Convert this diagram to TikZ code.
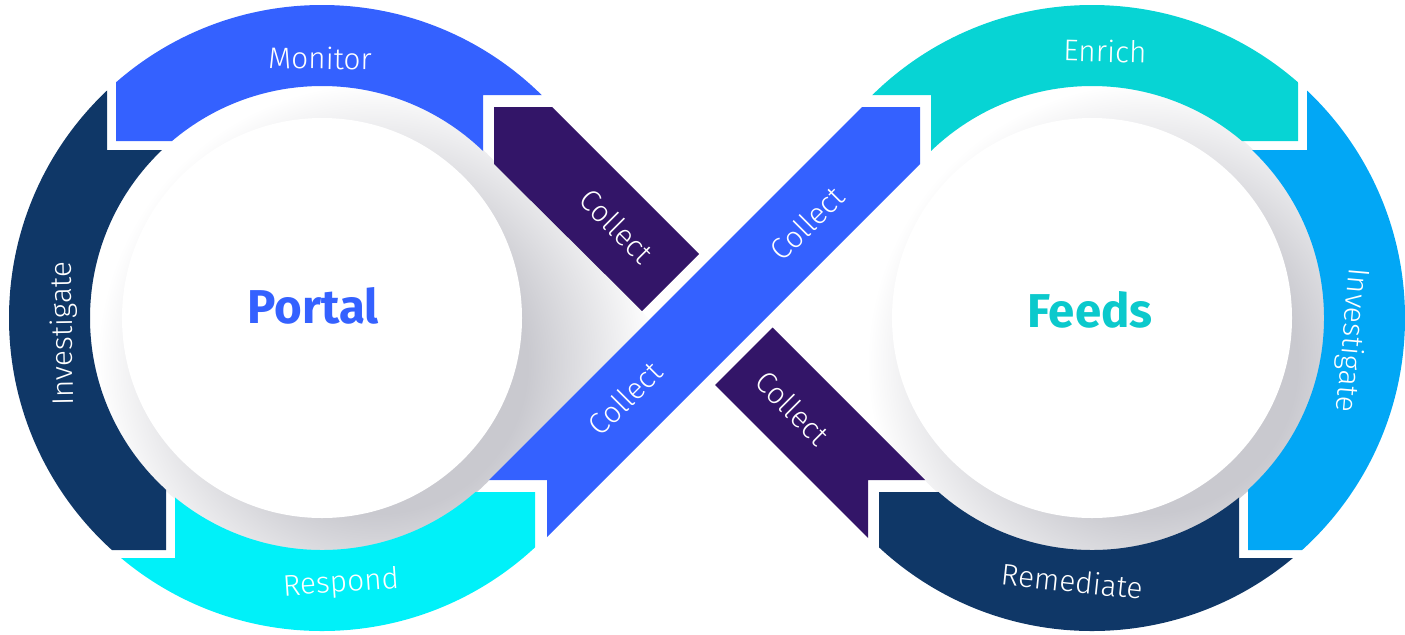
\documentclass[tikz,border=0pt]{standalone}
\usepackage{fontspec}
\setmainfont{Fira Sans}
\newfontfamily\thinfont{Fira Sans Light}
\definecolor{monitorblue}{HTML}{3461FF}
\definecolor{collectpurple}{HTML}{331568}
\definecolor{deepnavy}{HTML}{0F3767}
\definecolor{respondcyan}{HTML}{00F1F9}
\definecolor{enrichteal}{HTML}{07D4D4}
\definecolor{investblue}{HTML}{02A7F5}
\definecolor{feedsteal}{HTML}{0BC9CC}
\definecolor{shadowgrey}{HTML}{C9C9CF}
\pgfdeclareradialshading{ringshadow}{\pgfpointorigin}{color(0bp)=(shadowgrey); color(11.4bp)=(shadowgrey); color(21.2bp)=(white); color(50bp)=(white)}

\begin{document}
\begin{tikzpicture}[x=0.2mm, y=-0.2mm,
	lbl/.style={text=white, font=\thinfont\fontsize{17}{20}\selectfont, inner sep=0pt},
	hub/.style={font=\fontsize{27}{32}\selectfont\bfseries, inner sep=0pt}]
	\useasboundingbox (0,0) rectangle (1405,634);
	\coordinate (pc) at (322,318);
	\coordinate (fc) at (1092,318);
	% shadow round the two hubs
	\begin{scope}
		\clip (pc) circle (233);
		\shade[shading=ringshadow] (377,363) circle (330);
	\end{scope}
	\begin{scope}
		\clip (pc) -- (494,164) -- (649.5,319.5) -- (489,480) -- cycle;
		\shade[shading=ringshadow] (377,363) circle (330);
	\end{scope}
	\begin{scope}
		\clip (fc) circle (233);
		\shade[shading=ringshadow] (1147,363) circle (330);
	\end{scope}
	\begin{scope}
		\clip (fc) -- (920,164) -- (764.5,319.5) -- (925,480) -- cycle;
		\shade[shading=ringshadow] (1147,363) circle (330);
	\end{scope}
	\fill[white] (pc) circle (200);
	\fill[white] (fc) circle (200);
	% left loop
	\begin{scope}
		\clip (116,141) -- (116,-10) -- (600,-10) -- (600,95) -- (483,95) -- (483,318) -- (322,318) -- (322,141) -- cycle;
		\fill[monitorblue, even odd rule] (pc) circle (313) (pc) circle (232);
	\end{scope}
	\begin{scope}
		\clip (-10,-10) -- (107,-10) -- (107,150) -- (322,150) -- (322,318) -- (166,318) -- (166,550) -- (-10,550) -- cycle;
		\fill[deepnavy, even odd rule] (pc) circle (313) (pc) circle (232);
	\end{scope}
	\begin{scope}
		\clip (175,318) -- (175,558) -- (-10,558) -- (-10,700) -- (535,700) -- (535,492) -- (322,492) -- (322,318) -- cycle;
		\fill[respondcyan, even odd rule] (pc) circle (313) (pc) circle (232);
	\end{scope}
	% right loop
	\begin{scope}
		\clip (1298,141) -- (1298,-10) -- (814,-10) -- (814,95) -- (931,95) -- (931,318) -- (1092,318) -- (1092,141) -- cycle;
		\fill[enrichteal, even odd rule] (fc) circle (313) (fc) circle (232);
	\end{scope}
	\begin{scope}
		\clip (1424,-10) -- (1307,-10) -- (1307,150) -- (1092,150) -- (1092,318) -- (1248,318) -- (1248,550) -- (1424,550) -- cycle;
		\fill[investblue, even odd rule] (fc) circle (313) (fc) circle (232);
	\end{scope}
	\begin{scope}
		\clip (1239,318) -- (1239,558) -- (1424,558) -- (1424,700) -- (879,700) -- (879,492) -- (1092,492) -- (1092,318) -- cycle;
		\fill[deepnavy, even odd rule] (fc) circle (313) (fc) circle (232);
	\end{scope}
	% collect bars
	\fill[collectpurple] (494,107) -- (552,107) -- (699,254) -- (642,311) -- (494,164) -- cycle;
	\fill[monitorblue] (862,107) -- (920,107) -- (920,164) -- (547,537) -- (547,480) -- (489,480) -- cycle;
	\fill[collectpurple] (715,385) -- (772.5,327.5) -- (925,480) -- (868,480) -- (868,538) -- cycle;
	% labels
	\node[lbl, rotate=-1] (monitor) at (320,58) {Monitor};
	\node[lbl, rotate=91] (investL) at (64,334) {Investigate};
	\node[lbl, rotate=4] (respond) at (341,584) {Respond};
	\node[lbl, rotate=-1.5] (enrich) at (1105,51) {Enrich};
	\node[lbl, rotate=-95] (investR) at (1351,340) {Investigate};
	\node[lbl, rotate=-6] (remediate) at (1072,581) {Remediate};
	\node[lbl, rotate=-45] (collectA) at (617,226) {Collect};
	\node[lbl, rotate=45] (collectB) at (807,223) {Collect};
	\node[lbl, rotate=45] (collectC) at (625,398) {Collect};
	\node[lbl, rotate=-45] (collectD) at (793,408) {Collect};
	\node[hub, text=monitorblue] (portal) at (313,306) {Portal};
	\node[hub, text=feedsteal] (feeds) at (1090,310) {Feeds};
\end{tikzpicture}
\end{document}
